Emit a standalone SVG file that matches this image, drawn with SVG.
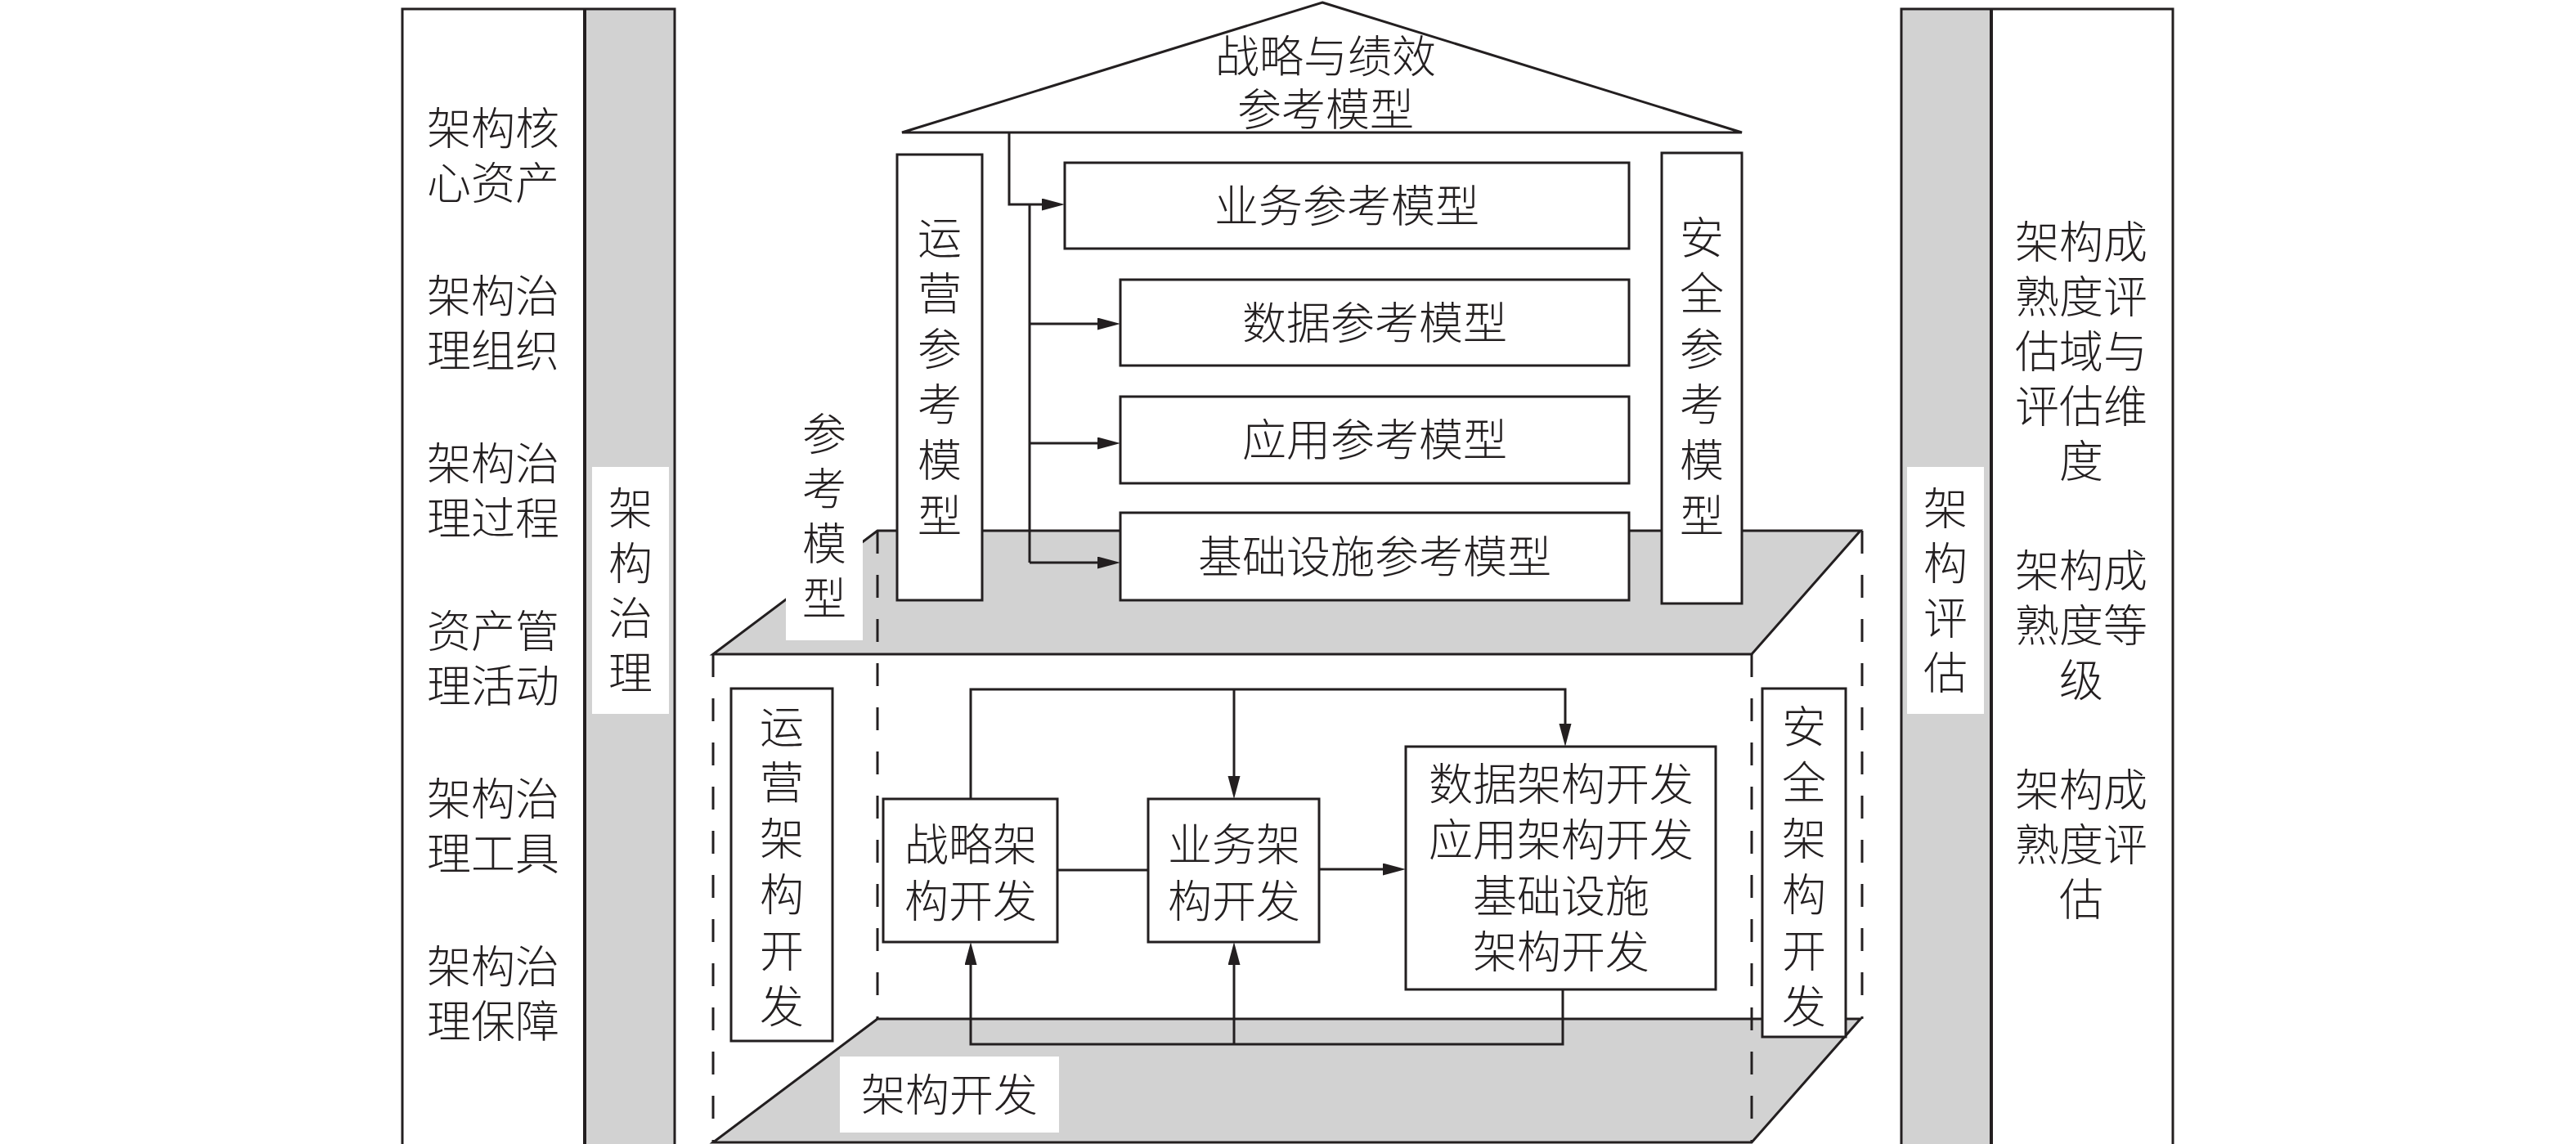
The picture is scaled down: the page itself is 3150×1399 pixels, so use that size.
<svg xmlns="http://www.w3.org/2000/svg" width="3150" height="1399" viewBox="0 0 3150 1399">
<style>
.t{font-family:"Noto Sans CJK SC","Noto Sans CJK JP",sans-serif;font-size:54px;fill:#231f20;text-anchor:middle;font-weight:300}
.box{fill:#fff;stroke:#231f20;stroke-width:3}
.gray{fill:#d2d2d2}
.plat{fill:#d2d2d2;stroke:#231f20;stroke-width:3;stroke-linejoin:miter}
.edge{fill:none;stroke:#231f20;stroke-width:3}
.dash{fill:none;stroke:#231f20;stroke-width:3;stroke-dasharray:28 26}
.lbl{fill:#fff}
.con{fill:none;stroke:#231f20;stroke-width:3}
.arr{fill:none;stroke:#231f20;stroke-width:3;marker-end:url(#ah)}
</style>
<defs>
<marker id="ah" markerUnits="userSpaceOnUse" markerWidth="28" markerHeight="16" refX="0" refY="7.5" orient="auto"><path d="M0,0 L28,7.5 L0,15 Z" fill="#231f20"/></marker>
</defs>
<rect width="3150" height="1399" fill="#fff"/>

<g id="governance">
<rect x="715" y="11" width="110" height="1400" class="gray"/>
<rect x="492" y="11" width="333" height="1400" class="edge"/>
<line x1="715" y1="11" x2="715" y2="1411" class="edge" style="stroke-width:4"/>
<rect x="724" y="571" width="94" height="302" class="lbl"/>
<text class="t"><tspan x="771" y="642">架</tspan><tspan x="771" y="709">构</tspan><tspan x="771" y="776">治</tspan><tspan x="771" y="843">理</tspan></text>
<text class="t"><tspan x="603" y="177">架构核</tspan><tspan x="603" y="244">心资产</tspan><tspan x="603" y="382">架构治</tspan><tspan x="603" y="449">理组织</tspan><tspan x="603" y="587">架构治</tspan><tspan x="603" y="654">理过程</tspan><tspan x="603" y="792">资产管</tspan><tspan x="603" y="859">理活动</tspan><tspan x="603" y="997">架构治</tspan><tspan x="603" y="1064">理工具</tspan><tspan x="603" y="1202">架构治</tspan><tspan x="603" y="1269">理保障</tspan></text>
</g>

<g id="assessment">
<rect x="2325" y="11" width="110" height="1400" class="gray"/>
<rect x="2325" y="11" width="332" height="1400" class="edge"/>
<line x1="2435" y1="11" x2="2435" y2="1411" class="edge" style="stroke-width:4"/>
<rect x="2332" y="571" width="94" height="302" class="lbl"/>
<text class="t"><tspan x="2379" y="642">架</tspan><tspan x="2379" y="709">构</tspan><tspan x="2379" y="776">评</tspan><tspan x="2379" y="843">估</tspan></text>
<text class="t"><tspan x="2545" y="316">架构成</tspan><tspan x="2545" y="383">熟度评</tspan><tspan x="2545" y="450">估域与</tspan><tspan x="2545" y="517">评估维</tspan><tspan x="2545" y="584">度</tspan><tspan x="2545" y="718">架构成</tspan><tspan x="2545" y="785">熟度等</tspan><tspan x="2545" y="852">级</tspan><tspan x="2545" y="986">架构成</tspan><tspan x="2545" y="1053">熟度评</tspan><tspan x="2545" y="1120">估</tspan></text>
</g>

<g id="platforms">
<polygon points="1073,649 2275,649 2142,800 872,800" class="plat"/>
<polygon points="1073,1246 2275,1246 2142,1397 872,1397" class="plat"/>
<line x1="872" y1="800" x2="872" y2="1397" class="dash"/>
<line x1="2142" y1="800" x2="2142" y2="1397" class="dash"/>
<line x1="1073" y1="649" x2="1073" y2="1246" class="dash"/>
<line x1="2277" y1="649" x2="2277" y2="1246" class="dash"/>
</g>

<g id="strategy-ref">
<polygon points="1617,3 2130,162 1103,162" class="box"/>
<text class="t"><tspan x="1621" y="89">战略与绩效</tspan><tspan x="1621" y="154">参考模型</tspan></text>
</g>

<g id="ops-ref">
<rect x="1097" y="189" width="104" height="545" class="box"/>
<text class="t"><tspan x="1149" y="311">运</tspan><tspan x="1149" y="379">营</tspan><tspan x="1149" y="447">参</tspan><tspan x="1149" y="515">考</tspan><tspan x="1149" y="583">模</tspan><tspan x="1149" y="651">型</tspan></text>
</g>

<g id="sec-ref">
<rect x="2032" y="187" width="98" height="551" class="box"/>
<text class="t"><tspan x="2081" y="311">安</tspan><tspan x="2081" y="379">全</tspan><tspan x="2081" y="447">参</tspan><tspan x="2081" y="515">考</tspan><tspan x="2081" y="583">模</tspan><tspan x="2081" y="651">型</tspan></text>
</g>

<g id="biz-ref">
<rect x="1302" y="199" width="690" height="105" class="box"/>
<text class="t" x="1647" y="272">业务参考模型</text>
</g>
<g id="data-ref">
<rect x="1370" y="342" width="622" height="105" class="box"/>
<text class="t" x="1681" y="415">数据参考模型</text>
</g>
<g id="app-ref">
<rect x="1370" y="485" width="622" height="106" class="box"/>
<text class="t" x="1681" y="558">应用参考模型</text>
</g>
<g id="infra-ref">
<rect x="1370" y="627" width="622" height="107" class="box"/>
<text class="t" x="1681" y="701">基础设施参考模型</text>
</g>

<g id="ref-label">
<rect x="961" y="482" width="94" height="301" class="lbl"/>
<text class="t"><tspan x="1008" y="551">参</tspan><tspan x="1008" y="618">考</tspan><tspan x="1008" y="685">模</tspan><tspan x="1008" y="752">型</tspan></text>
</g>

<g id="ops-dev">
<rect x="894" y="842" width="124" height="431" class="box"/>
<text class="t"><tspan x="956" y="909">运</tspan><tspan x="956" y="977">营</tspan><tspan x="956" y="1046">架</tspan><tspan x="956" y="1114">构</tspan><tspan x="956" y="1183">开</tspan><tspan x="956" y="1251">发</tspan></text>
</g>
<g id="sec-dev">
<rect x="2155" y="842" width="102" height="426" class="box"/>
<text class="t"><tspan x="2206" y="909">安</tspan><tspan x="2206" y="977">全</tspan><tspan x="2206" y="1046">架</tspan><tspan x="2206" y="1114">构</tspan><tspan x="2206" y="1183">开</tspan><tspan x="2206" y="1251">发</tspan></text>
</g>

<g id="strategy-dev">
<rect x="1080" y="977" width="213" height="175" class="box"/>
<text class="t"><tspan x="1187" y="1053">战略架</tspan><tspan x="1187" y="1122">构开发</tspan></text>
</g>
<g id="biz-dev">
<rect x="1404" y="977" width="209" height="175" class="box"/>
<text class="t"><tspan x="1509" y="1053">业务架</tspan><tspan x="1509" y="1122">构开发</tspan></text>
</g>
<g id="dai-dev">
<rect x="1719" y="913" width="379" height="297" class="box"/>
<text class="t"><tspan x="1909" y="979">数据架构开发</tspan><tspan x="1909" y="1047">应用架构开发</tspan><tspan x="1909" y="1116">基础设施</tspan><tspan x="1909" y="1184">架构开发</tspan></text>
</g>

<g id="dev-label">
<rect x="1027" y="1292" width="268" height="93" class="lbl"/>
<text class="t" x="1161" y="1359">架构开发</text>
</g>

<g id="connectors">
<path d="M1234,162 V250 H1274" class="arr"/>
<path d="M1259,250 V688" class="con"/>
<path d="M1259,396 H1342" class="arr"/>
<path d="M1259,542 H1342" class="arr"/>
<path d="M1259,688 H1342" class="arr"/>
<path d="M1187,977 V843 H1914 V885" class="arr"/>
<path d="M1509,843 V949" class="arr"/>
<path d="M1293,1064 H1404" class="con"/>
<path d="M1613,1063 H1691" class="arr"/>
<path d="M1911,1210 V1277 H1187 V1180" class="arr"/>
<path d="M1509,1277 V1180" class="arr"/>
</g>
</svg>
